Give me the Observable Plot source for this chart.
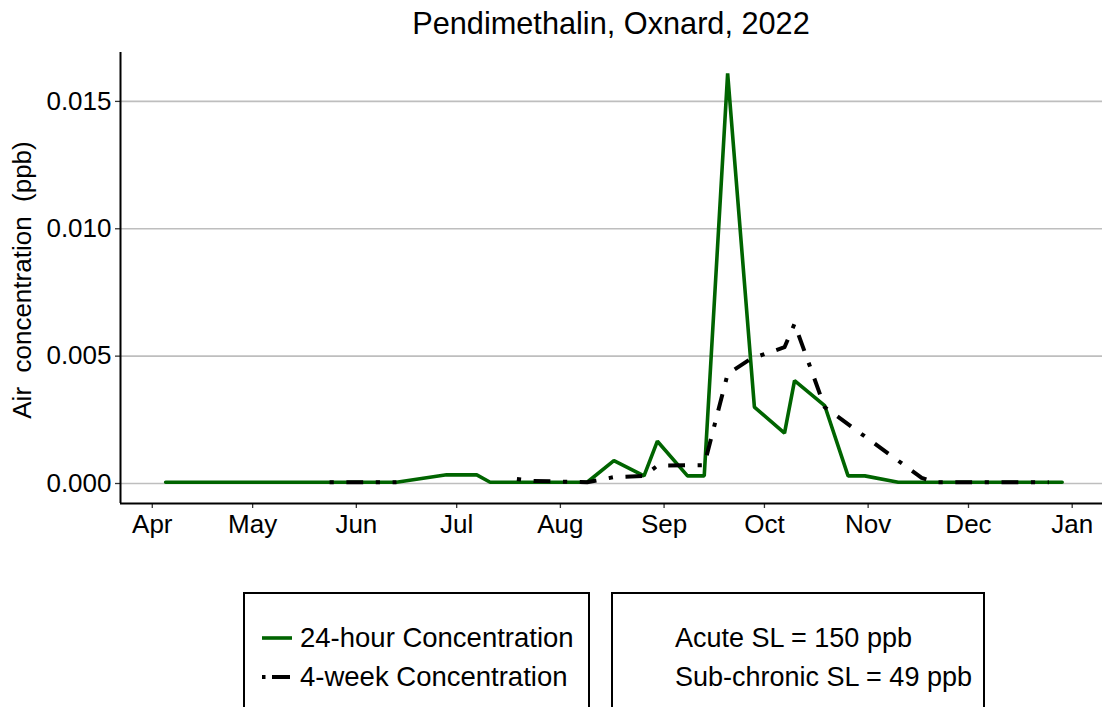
<!DOCTYPE html>
<html><head><meta charset="utf-8">
<script src="https://cdn.jsdelivr.net/npm/d3@7"></script>
<script src="https://cdn.jsdelivr.net/npm/@observablehq/plot@0.6"></script>
<style>
  body { margin: 0; background: #fff; font-family: "Liberation Sans", Arial, sans-serif; }
  #wrap { position: relative; width: 1102px; height: 707px; overflow: hidden; background: #fff; }
  #title { position: absolute; left: 120px; width: 982px; top: 8px; text-align: center; font-size: 30.7px; line-height: 32px; color: #000; }
  #chart { position: absolute; left: 0; top: 0; }
  #ytitle { position: absolute; left: 22px; top: 280px; font-size: 26px; white-space: pre; color: #000;
            transform: translate(-50%, -50%) rotate(-90deg); line-height: 26px; }
  .box { position: absolute; top: 592px; height: 130px; border: 2px solid #000; box-sizing: border-box; }
  .row { position: absolute; font-size: 27.5px; line-height: 30px; white-space: nowrap; color: #000; }
  #box2 .row { font-size: 27px; }
  .sw { position: absolute; }
</style>
</head><body>
<div id="wrap">
  <div id="chart"></div>
  <div id="title"></div>
  <div id="ytitle"></div>
  <div class="box" id="box1" style="left:243px;width:347px;"></div>
  <div class="box" id="box2" style="left:611px;width:374px;"></div>
</div>
<script>
// ---- data ----
const titleText = "Pendimethalin, Oxnard, 2022";
const yTitle = "Air  concentration  (ppb)";

const dates24 = ["2022-04-05","2022-06-13","2022-06-28","2022-07-07","2022-07-11","2022-08-09","2022-08-17",
  "2022-08-26","2022-08-30","2022-09-08","2022-09-13","2022-09-20","2022-09-28","2022-10-07","2022-10-10",
  "2022-10-19","2022-10-26","2022-10-31","2022-11-10","2022-12-29"];
const values24 = [0.00005,0.00005,0.00034,0.00034,0.00005,0.00005,0.0009,
  0.0003,0.00166,0.0003,0.0003,0.0161,0.0030,0.00198,0.00404,
  0.00306,0.0003,0.0003,0.00005,0.00005];

const dates4w = ["2022-05-24","2022-06-13","2022-06-20","2022-07-19","2022-07-24","2022-08-09","2022-08-17",
  "2022-08-26","2022-08-30","2022-09-13","2022-09-20","2022-09-27","2022-10-07","2022-10-10","2022-10-19",
  "2022-11-17","2022-11-21","2022-12-25"];
const values4w = [0.00005,0.00005,NaN,0.00018,0.0001,0.00005,0.00025,
  0.0003,0.0007,0.00072,0.0043,0.0049,0.00535,0.00627,0.0030,
  0.00022,0.00005,0.00005];

const monthTickDates = ["2022-04-01","2022-05-01","2022-06-01","2022-07-01","2022-08-01","2022-09-01",
  "2022-10-01","2022-11-01","2022-12-01","2023-01-01"];
const monthTickLabels = ["Apr","May","Jun","Jul","Aug","Sep","Oct","Nov","Dec","Jan"];
const yTicks = [0, 0.005, 0.010, 0.015];

const legendSeries = ["24-hour Concentration", "4-week Concentration"];
const legendNotes = ["Acute SL = 150 ppb", "Sub-chronic SL = 49 ppb"];
const seriesColors = ["#006400", "#000000"];

// ---- build ----
const d24 = dates24.map((d, i) => ({date: new Date(d), value: values24[i]}));
const d4w = dates4w.map((d, i) => ({date: new Date(d), value: values4w[i]}));
const tickDates = monthTickDates.map(d => new Date(d));
const labelOf = new Map(tickDates.map((d, i) => [+d, monthTickLabels[i]]));

const xDomain = [new Date("2022-03-22T12:00:00Z"), new Date("2023-01-10T01:26:00Z")];
const yDomain = [-0.000785, 0.01692];
const dashPattern = "4.2,12.6,16.8,12.6";
const font = "Liberation Sans, Arial, sans-serif";

const chart = Plot.plot({
  width: 1102, height: 560,
  marginLeft: 120, marginRight: 0, marginTop: 52, marginBottom: 57,
  style: {fontFamily: font, fontSize: "26px", color: "#000", background: "transparent", overflow: "visible"},
  x: {type: "utc", domain: xDomain},
  y: {domain: yDomain},
  marks: [
    Plot.gridY(yTicks, {stroke: "#bebebe", strokeOpacity: 1, strokeWidth: 1.6}),
    Plot.axisY(yTicks, {tickSize: 5, tickPadding: 4, tickFormat: d3.format(".3f"), label: null,
      fontSize: 26, stroke: "#333", strokeWidth: 1.3, fill: "#000"}),
    Plot.axisX(tickDates, {tickSize: 5, tickPadding: 6, tickFormat: d => labelOf.get(+d), label: null,
      fontSize: 26, stroke: "#333", strokeWidth: 1.3, fill: "#000"}),
    Plot.ruleX([xDomain[0]], {stroke: "#000", strokeWidth: 2}),
    Plot.ruleY([yDomain[0]], {stroke: "#000", strokeWidth: 2}),
    Plot.line(d24, {x: "date", y: "value", stroke: seriesColors[0], strokeWidth: 3.6, strokeLinejoin: "miter"}),
    Plot.line(d4w, {x: "date", y: "value", stroke: seriesColors[1], strokeWidth: 4,
      strokeDasharray: dashPattern, strokeLinecap: "butt"})
  ]
});
document.getElementById("chart").appendChild(chart);
document.getElementById("title").textContent = titleText;
document.getElementById("ytitle").textContent = yTitle;

// legend box 1
const box1 = document.getElementById("box1");
legendSeries.forEach((s, i) => {
  const top = i === 0 ? 29 : 68;
  const sw = document.createElementNS("http://www.w3.org/2000/svg", "svg");
  sw.setAttribute("class", "sw"); sw.setAttribute("width", 32); sw.setAttribute("height", 10);
  sw.style.left = "17px"; sw.style.top = (top + 10) + "px";
  const ln = document.createElementNS("http://www.w3.org/2000/svg", "line");
  ln.setAttribute("x1", 0); ln.setAttribute("x2", 30); ln.setAttribute("y1", 5); ln.setAttribute("y2", 5);
  ln.setAttribute("stroke", seriesColors[i]); ln.setAttribute("stroke-width", i === 0 ? 3.6 : 4);
  if (i === 1) ln.setAttribute("stroke-dasharray", "3.5,6.5,18,20");
  sw.appendChild(ln); box1.appendChild(sw);
  const t = document.createElement("div"); t.className = "row";
  t.style.left = "55px"; t.style.top = top + "px"; t.textContent = s; box1.appendChild(t);
});
const box2 = document.getElementById("box2");
legendNotes.forEach((s, i) => {
  const t = document.createElement("div"); t.className = "row";
  t.style.left = "62px"; t.style.top = (i === 0 ? 29 : 68) + "px"; t.textContent = s; box2.appendChild(t);
});
</script>
</body></html>
